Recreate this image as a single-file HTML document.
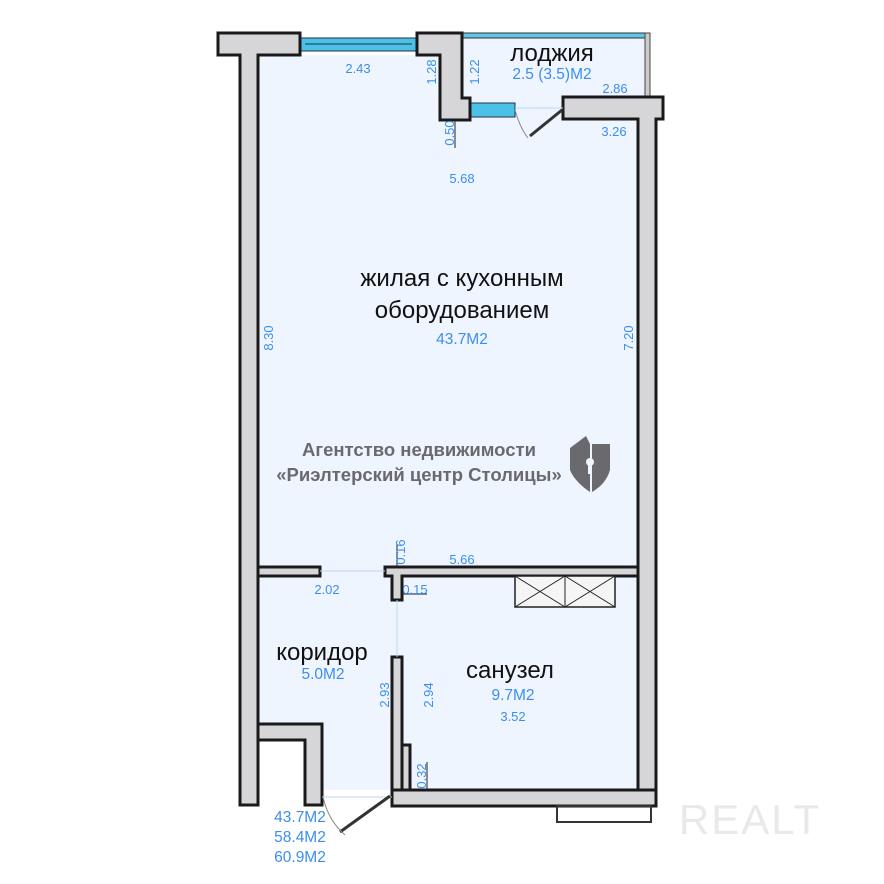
<!DOCTYPE html>
<html><head><meta charset="utf-8"><style>
html,body{margin:0;padding:0;background:#fff;}
svg{display:block;}
.d{font-family:"Liberation Sans",sans-serif;font-size:13px;fill:#3b8ef0;}
.r{font-family:"Liberation Sans","Noto Sans CJK SC",sans-serif;font-size:24px;fill:#111;}
.a{font-family:"Liberation Sans",sans-serif;font-size:15.5px;fill:#3b8ef0;}
.w{fill:#d6d6d8;stroke:#1a1a1a;stroke-width:3;}
</style></head><body>
<svg width="884" height="884" viewBox="0 0 884 884" xmlns="http://www.w3.org/2000/svg">
<rect x="258" y="55" width="380" height="735" fill="#eff5fe"/>
<rect x="462" y="36" width="186" height="62" fill="#eff5fe"/>
<rect x="258" y="740" width="47" height="66" fill="#fff"/>
<rect x="462" y="33" width="186" height="5" fill="#5fc6e6" stroke="#333" stroke-width="1"/>
<rect x="645" y="33" width="5" height="64" fill="#ccc" stroke="#444" stroke-width="1"/>
<rect x="300" y="38" width="117" height="13" fill="#4cc1e8" stroke="#234" stroke-width="1"/>
<line x1="305" y1="44" x2="412" y2="44" stroke="#234" stroke-width="1"/>
<rect x="470" y="103" width="45" height="14" fill="#4cc1e8" stroke="#234" stroke-width="1"/>
<path class="w" d="M218 33 H300 V55 H258 V805 H240 V55 H218 Z"/>
<path class="w" d="M417 33 H462 V98 H470 V120 H440 V55 H417 Z"/>
<path class="w" d="M563 97 H663 V119 H656 V805 H638 V119 H563 Z"/>
<rect class="w" x="258" y="567" width="62" height="9" stroke-width="2"/>
<path class="w" d="M385 567 H638 V576 H402 V600 H392 V576 H385 Z" stroke-width="2"/>
<rect class="w" x="392" y="657" width="10" height="133" stroke-width="2"/>
<rect class="w" x="402" y="745" width="8" height="45" stroke-width="2"/>
<rect class="w" x="392" y="790" width="264" height="16" stroke-width="2"/>
<path class="w" d="M258 724 H322 V805 H305 V740 H258 Z" stroke-width="2"/>
<rect x="557" y="806" width="94" height="16" fill="none" stroke="#333" stroke-width="2"/>
<rect x="515" y="576" width="100" height="31" fill="#f5f5f5" stroke="#222" stroke-width="1.5"/>
<line x1="565" y1="576" x2="565" y2="607" stroke="#222"/>
<path d="M515 576 L565 607 M565 576 L515 607 M565 576 L615 607 M615 576 L565 607" stroke="#222" stroke-width="1"/>
<line x1="320" y1="571" x2="385" y2="571" stroke="#bcd6f6"/>
<line x1="397" y1="600" x2="397" y2="657" stroke="#bcd6f6"/>
<line x1="322" y1="797" x2="392" y2="797" stroke="#bcd6f6"/>
<line x1="515" y1="108" x2="563" y2="108" stroke="#bcd6f6"/>
<line x1="562" y1="110" x2="530" y2="136" stroke="#333" stroke-width="3"/>
<line x1="390" y1="796" x2="340" y2="832" stroke="#333" stroke-width="3"/>
<path d="M515 110 Q520 128 528 138" fill="none" stroke="#888"/>
<path d="M323 797 Q328 820 345 835" fill="none" stroke="#888"/>
<line x1="455" y1="120" x2="455" y2="148" stroke="#222"/>
<line x1="397" y1="544" x2="397" y2="567" stroke="#222"/>
<line x1="403" y1="594" x2="427" y2="594" stroke="#222"/>
<line x1="427" y1="762" x2="427" y2="790" stroke="#222"/>
<text class="d" x="358" y="73" text-anchor="middle">2.43</text>
<text class="d" transform="translate(436,72) rotate(-90)" text-anchor="middle">1.28</text>
<text class="d" transform="translate(479,72) rotate(-90)" text-anchor="middle">1.22</text>
<text class="d" transform="translate(454,133) rotate(-90)" text-anchor="middle">0.50</text>
<text class="d" x="615" y="93" text-anchor="middle">2.86</text>
<text class="d" x="614" y="136" text-anchor="middle">3.26</text>
<text class="d" x="462" y="183" text-anchor="middle">5.68</text>
<text class="d" transform="translate(273,338) rotate(-90)" text-anchor="middle">8.30</text>
<text class="d" transform="translate(633,338) rotate(-90)" text-anchor="middle">7.20</text>
<text class="d" transform="translate(405,552) rotate(-90)" text-anchor="middle">0.16</text>
<text class="d" x="462" y="564" text-anchor="middle">5.66</text>
<text class="d" x="327" y="594" text-anchor="middle">2.02</text>
<text class="d" x="415" y="594" text-anchor="middle">0.15</text>
<text class="d" transform="translate(389,695) rotate(-90)" text-anchor="middle">2.93</text>
<text class="d" transform="translate(433,695) rotate(-90)" text-anchor="middle">2.94</text>
<text class="d" x="513" y="721" text-anchor="middle">3.52</text>
<text class="d" transform="translate(426,776) rotate(-90)" text-anchor="middle">0.32</text>
<text class="r" x="552" y="61" text-anchor="middle">лоджия</text>
<text class="a" x="552" y="79" text-anchor="middle">2.5 (3.5)М2</text>
<text class="r" x="462" y="286" text-anchor="middle">жилая с кухонным</text>
<text class="r" x="462" y="318" text-anchor="middle">оборудованием</text>
<text class="a" x="462" y="344" text-anchor="middle">43.7М2</text>
<text class="r" x="322" y="660" text-anchor="middle">коридор</text>
<text class="a" x="323" y="679" text-anchor="middle">5.0М2</text>
<text class="r" x="510" y="678" text-anchor="middle">санузел</text>
<text class="a" x="513" y="700" text-anchor="middle">9.7М2</text>
<text class="a" x="300" y="822" text-anchor="middle">43.7М2</text>
<text class="a" x="300" y="842" text-anchor="middle">58.4М2</text>
<text class="a" x="300" y="862" text-anchor="middle">60.9М2</text>
<text x="419" y="456" text-anchor="middle" font-family="Liberation Sans,sans-serif" font-weight="bold" font-size="18.5" fill="#6a6a6e">Агентство недвижимости</text>
<text x="419" y="481" text-anchor="middle" font-family="Liberation Sans,sans-serif" font-weight="bold" font-size="18.5" fill="#6a6a6e">«Риэлтерский центр Столицы»</text>
<path d="M570 448 L586 436 L590 444 V492 Q575 482 570 470 Z" fill="#6a6a6e"/>
<path d="M592 444 H610 V470 Q606 484 592 492 Z" fill="#6a6a6e"/>
<circle cx="590" cy="462" r="4" fill="#eff5fe"/>
<rect x="588" y="462" width="4" height="12" fill="#eff5fe"/>
<text x="750" y="834" text-anchor="middle" font-family="Liberation Sans,sans-serif" font-size="42" fill="#e9e9e9" letter-spacing="2">REALT</text>
</svg>
</body></html>
